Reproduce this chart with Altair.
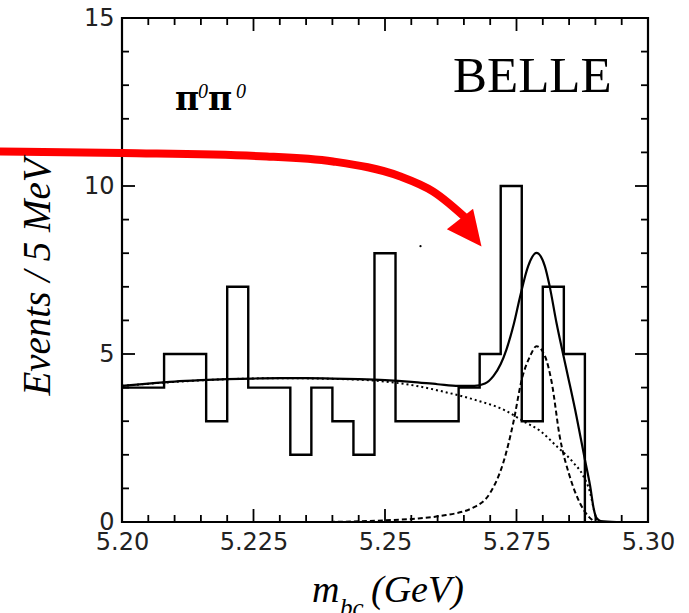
import altair as alt
import pandas as pd

# ---------------- data ----------------
bin_lo = [5.200, 5.204, 5.208, 5.212, 5.216, 5.220, 5.224, 5.228, 5.232, 5.236, 5.240,
          5.244, 5.248, 5.252, 5.256, 5.260, 5.264, 5.268, 5.272, 5.276, 5.280, 5.284]
counts = [4, 4, 5, 5, 3, 7, 4, 4, 2, 4, 3, 2, 8, 3, 3, 3, 4, 5, 10, 3, 7, 5]
hist_end = 5.288

fit_x = [5.2000, 5.2050, 5.2100, 5.2150, 5.2200, 5.2250, 5.2300, 5.2350, 5.2400, 5.2450,
         5.2500, 5.2550, 5.2600, 5.2640, 5.2670, 5.2690, 5.2706, 5.2720, 5.2731, 5.2745,
         5.2757, 5.2772, 5.2788, 5.2804, 5.2813, 5.2826, 5.2845, 5.2864, 5.2880, 5.2890,
         5.2897, 5.2902, 5.2910, 5.2940]
fit_y = [4.05, 4.12, 4.18, 4.22, 4.25, 4.27, 4.28, 4.28, 4.27, 4.25,
         4.22, 4.17, 4.10, 4.05, 4.05, 4.12, 4.34, 4.70, 5.14, 5.90,
         6.72, 7.61, 8.01, 7.61, 7.02, 5.93, 4.54, 3.15, 1.86, 1.07,
         0.38, 0.12, 0.03, 0.0]

bkg_x = [5.2000, 5.2100, 5.2200, 5.2300, 5.2400, 5.2500, 5.2560, 5.2605, 5.2668, 5.2731,
         5.2763, 5.2795, 5.2826, 5.2858, 5.2877, 5.2890, 5.2897, 5.2902, 5.2904]
bkg_y = [4.05, 4.17, 4.25, 4.28, 4.26, 4.18, 4.05, 3.90, 3.65, 3.30,
         3.00, 2.71, 2.26, 1.77, 1.37, 0.87, 0.38, 0.08, 0.0]

sig_x = [5.2380, 5.2450, 5.2500, 5.2560, 5.2605, 5.2668, 5.2700, 5.2725, 5.2744, 5.2760,
         5.2776, 5.2788, 5.2804, 5.2817, 5.2832, 5.2851, 5.2870, 5.2886, 5.2899]
sig_y = [0.0, 0.02, 0.05, 0.10, 0.18, 0.43, 0.87, 1.77, 2.96, 4.24,
         4.94, 5.23, 4.94, 4.15, 2.56, 1.37, 0.58, 0.18, 0.0]

# red annotation arrow (in data coordinates)
arrow_x = [5.1768, 5.2001, 5.2275, 5.2401, 5.2528, 5.2591, 5.2661]
arrow_y = [11.03, 10.98, 10.88, 10.73, 10.29, 9.84, 8.94]
arrow_head_x = [5.2663]
arrow_head_y = [8.61]
speck_x = [5.25675]
speck_y = [8.21]

x_major = [5.2, 5.225, 5.25, 5.275, 5.3]
x_labels = ["5.20", "5.225", "5.25", "5.275", "5.30"]
x_minor = [5.205, 5.21, 5.215, 5.22, 5.23, 5.235, 5.24, 5.245,
           5.255, 5.26, 5.265, 5.27, 5.28, 5.285, 5.29, 5.295]
y_major = [0, 5, 10, 15]
y_minor = [1, 2, 3, 4, 6, 7, 8, 9, 11, 12, 13, 14]

# ---------------- layout ----------------
W, H = 526, 504
xs = alt.Scale(domain=[5.2, 5.3], nice=False, zero=False)
ys = alt.Scale(domain=[0, 15], nice=False, zero=True)
SERIF = "Liberation Serif"
SANS = "DejaVu Sans"

label_expr = "[" + ",".join("'%s'" % s for s in x_labels) + "][round((datum.value-5.2)/0.025)]"

x_axis = alt.Axis(
    values=x_major, labelExpr=label_expr, title=None, ticks=False,
    domain=False, grid=False, labelFont=SANS, labelFontSize=24, labelColor="#222",
    labelPadding=8, labelFlush=False, labelOverlap=False)
y_axis = alt.Axis(
    values=y_major, title=None, ticks=False, domain=False, grid=False,
    labelFont=SANS, labelFontSize=24, labelColor="#222", labelPadding=8,
    labelFlush=False, labelOverlap=False)


def X():
    return alt.X("m:Q", scale=xs, axis=x_axis)


def Y():
    return alt.Y("n:Q", scale=ys, axis=y_axis)


hist_df = pd.DataFrame({"m": bin_lo + [hist_end], "n": counts + [0]})
hist = alt.Chart(hist_df).mark_line(
    interpolate="step-after", color="black", strokeWidth=2.4
).encode(x=X(), y=Y())


def curve(xv, yv, dash=None, width=2.0):
    kw = dict(color="black", strokeWidth=width, interpolate="monotone")
    if dash:
        kw["strokeDash"] = dash
    return alt.Chart(pd.DataFrame({"m": xv, "n": yv})).mark_line(**kw).encode(x=X(), y=Y())


fit = curve(fit_x, fit_y, width=2.2)
bkg = curve(bkg_x, bkg_y, dash=[2, 3], width=2.0)
sig = curve(sig_x, sig_y, dash=[5, 3], width=2.0)

arrow = alt.Chart(pd.DataFrame({"m": arrow_x, "n": arrow_y})).mark_line(
    color="#ff0000", strokeWidth=8, interpolate="monotone", strokeCap="butt"
).encode(x=X(), y=Y())

head = alt.Chart(pd.DataFrame({"m": arrow_head_x, "n": arrow_head_y})).mark_point(
    shape="M-0.95,-1L0.95,-1L0,1Z", filled=True, fill="#ff0000", color="#ff0000",
    opacity=1, size=1225, angle=322, strokeWidth=0
).encode(x=X(), y=Y())

speck = alt.Chart(pd.DataFrame({"m": speck_x, "n": speck_y})).mark_point(
    filled=True, color="black", size=5, opacity=1
).encode(x=X(), y=Y())


def ticks_x(vals, length, top=False):
    df = pd.DataFrame({"m": vals})
    if top:
        yy, yy2 = alt.value(0), alt.value(length)
    else:
        yy, yy2 = alt.value(H), alt.value(H - length)
    return alt.Chart(df).mark_rule(color="black", strokeWidth=1.8).encode(
        x=X(), y=yy, y2=yy2)


def ticks_y(vals, length, right=False):
    df = pd.DataFrame({"n": vals})
    if right:
        xx, xx2 = alt.value(W), alt.value(W - length)
    else:
        xx, xx2 = alt.value(0), alt.value(length)
    return alt.Chart(df).mark_rule(color="black", strokeWidth=1.8).encode(
        y=Y(), x=xx, x2=xx2)


tick_layers = [
    ticks_x(x_minor, 7), ticks_x(x_major, 13),
    ticks_x(x_minor, 7, top=True), ticks_x(x_major, 13, top=True),
    ticks_y(y_minor, 7), ticks_y(y_major, 13),
    ticks_y(y_minor, 7, right=True), ticks_y(y_major, 13, right=True),
]


def txt(s, x, y, size, style="normal", weight="normal", font=SERIF, angle=0,
        align="left", baseline="alphabetic"):
    kw = dict(text=s, font=font, fontSize=size, fontStyle=style, fontWeight=weight,
              align=align, baseline=baseline, color="black")
    if angle:
        kw["angle"] = angle
    return alt.Chart(pd.DataFrame({"t": [s]})).mark_text(**kw).encode(
        x=alt.value(x), y=alt.value(y))


texts = [
    txt("BELLE", 331, 74, 51),
    txt("π", 53, 92, 33, weight="bold", font="DejaVu Serif"),
    txt("0", 76, 80, 20, style="italic"),
    txt("π", 86, 92, 33, weight="bold", font="DejaVu Serif"),
    txt("0", 114, 80, 20, style="italic"),
    txt("Events / 5 MeV", -72, 259, 39, style="italic", angle=270, align="center"),
    txt("m", 190, 584, 38, style="italic"),
    txt("bc", 218, 598, 25, style="italic"),
    txt("(GeV)", 249, 584, 38, style="italic"),
]

chart = alt.layer(
    hist, *tick_layers, bkg, sig, fit, arrow, head, speck, *texts
).properties(
    width=W, height=H,
    autosize=alt.AutoSizeParams(type="none"),
    padding={"left": 122, "top": 18, "right": 41, "bottom": 91},
    background="white",
).configure_view(stroke="black", strokeWidth=2.2)

chart.save("out.html", embed_options={"renderer": "svg", "actions": False})
